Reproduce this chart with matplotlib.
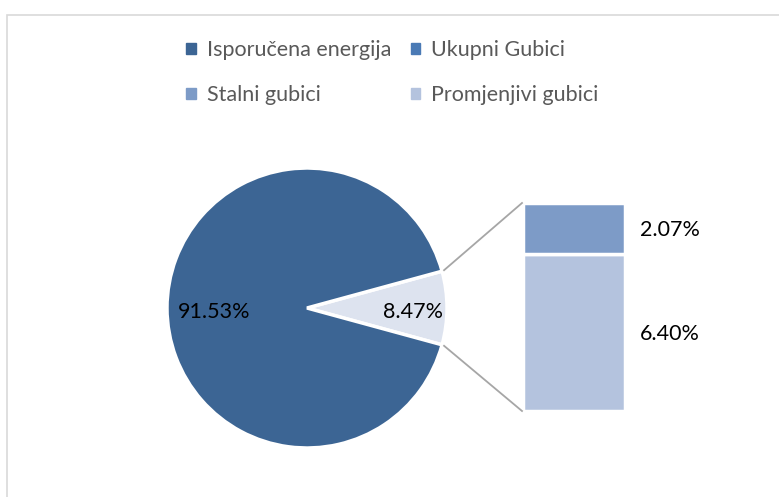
import numpy as np
import matplotlib.pyplot as plt
from matplotlib.patches import Rectangle

# data
pie_labels = ["Ukupni Gubici", "Isporučena energija"]
pie_values = [8.47, 91.53]
bar_labels = ["Promjenjivi gubici", "Stalni gubici"]
bar_values = [6.40, 2.07]

legend_names = ["Isporučena energija", "Ukupni Gubici", "Stalni gubici", "Promjenjivi gubici"]
legend_colors = ["#3c6594", "#4a7ab5", "#7d9bc7", "#b4c3de"]

col_main = "#3c6594"
col_small = "#dde3ef"
bar_colors = ["#b4c3de", "#7d9bc7"]

plt.rcParams['font.family'] = ['Lato', 'DejaVu Sans']

W, H = 779, 497
fig = plt.figure(figsize=(W / 100, H / 100), dpi=100)
ax = fig.add_axes([0, 0, 1, 1])

# chart border
ax.add_patch(Rectangle((7, -10), W, H - 15 + 10, fill=False, edgecolor="#d9d9d9", lw=1.2))

# pie
cx, cy, r = 307, H - 308, 140
half = pie_values[0] / sum(pie_values) * 360 / 2
wedges, _ = ax.pie(pie_values, colors=[col_small, col_main], startangle=-half,
                   center=(cx, cy), radius=r, frame=True,
                   wedgeprops=dict(edgecolor="white", linewidth=2.5))
ax.set_xlim(0, W)
ax.set_ylim(0, H)
ax.set_aspect('equal')
ax.axis('off')

fs = 15.5
# pie labels
ax.text(cx + 0.76 * r, cy - 4, f"{pie_values[0]:.2f}%", ha='center', va='center', fontsize=fs, color="black")
ax.text(cx - 0.66 * r, cy - 4, f"{pie_values[1]:.2f}%", ha='center', va='center', fontsize=fs, color="black")

# stacked bar of pie
bx, bw = 574, 102
bottom_y = H - 411
k = 208 / sum(bar_values)
bottoms = [bottom_y, bottom_y + bar_values[0] * k]
for v, b, c in zip(bar_values, bottoms, bar_colors):
    ax.bar(bx, v * k, width=bw, bottom=b, color=c, edgecolor="white", linewidth=2.5)
    ax.text(bx + bw / 2 + 15, b + v * k / 2 - 2, f"{v:.2f}%", ha='left', va='center',
            fontsize=fs, color="black")

# connector lines
top_y = bottom_y + sum(bar_values) * k
a = np.radians(half)
ax.plot([cx + r * np.cos(a) + 2, bx - bw / 2 - 1], [cy + r * np.sin(a) + 1, top_y],
        color="#a6a6a6", lw=1.3)
ax.plot([cx + r * np.cos(a) + 2, bx - bw / 2 - 1], [cy - r * np.sin(a) - 1, bottom_y],
        color="#a6a6a6", lw=1.3)

# legend (matplotlib fills column by column, so reorder for row layout)
order = [0, 2, 1, 3]
handles = [Rectangle((0, 0), 1, 1, color=legend_colors[i]) for i in order]
names = [legend_names[i] for i in order]
leg = fig.legend(handles, names, ncol=2, loc='upper left',
                 bbox_to_anchor=(167 / W, 1 - 21 / H), frameon=False,
                 fontsize=fs, handlelength=0.45, handleheight=0.45,
                 handletextpad=0.5, columnspacing=0.9, labelspacing=1.15,
                 labelcolor="#595959")

fig.savefig("out.png", dpi=100)
